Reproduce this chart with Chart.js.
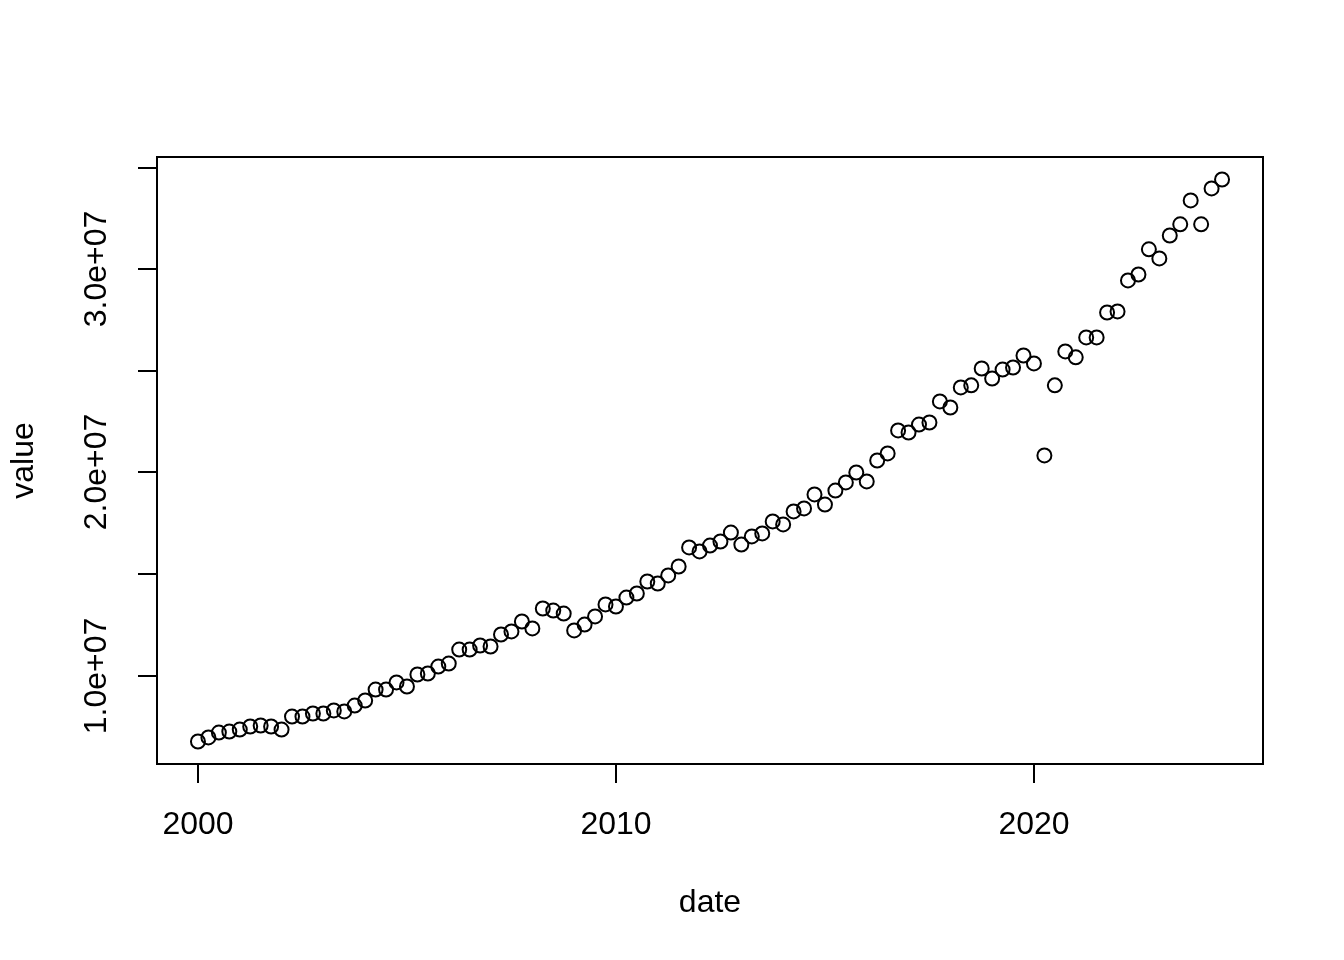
<!DOCTYPE html>
<html>
<head>
<meta charset="utf-8">
<script src="https://cdn.jsdelivr.net/npm/chart.js@4.4.0/dist/chart.umd.min.js"></script>
<style>
  body { margin: 0; background: #fff; }
  canvas { display: block; }
</style>
</head>
<body>
<canvas id="chart" width="1344" height="960"></canvas>
<script>
// quarterly observations, decimal years
const dates = [
  2000.00, 2000.25, 2000.50, 2000.75,
  2001.00, 2001.25, 2001.50, 2001.75,
  2002.00, 2002.25, 2002.50, 2002.75,
  2003.00, 2003.25, 2003.50, 2003.75,
  2004.00, 2004.25, 2004.50, 2004.75,
  2005.00, 2005.25, 2005.50, 2005.75,
  2006.00, 2006.25, 2006.50, 2006.75,
  2007.00, 2007.25, 2007.50, 2007.75,
  2008.00, 2008.25, 2008.50, 2008.75,
  2009.00, 2009.25, 2009.50, 2009.75,
  2010.00, 2010.25, 2010.50, 2010.75,
  2011.00, 2011.25, 2011.50, 2011.75,
  2012.00, 2012.25, 2012.50, 2012.75,
  2013.00, 2013.25, 2013.50, 2013.75,
  2014.00, 2014.25, 2014.50, 2014.75,
  2015.00, 2015.25, 2015.50, 2015.75,
  2016.00, 2016.25, 2016.50, 2016.75,
  2017.00, 2017.25, 2017.50, 2017.75,
  2018.00, 2018.25, 2018.50, 2018.75,
  2019.00, 2019.25, 2019.50, 2019.75,
  2020.00, 2020.25, 2020.50, 2020.75,
  2021.00, 2021.25, 2021.50, 2021.75,
  2022.00, 2022.25, 2022.50, 2022.75,
  2023.00, 2023.25, 2023.50, 2023.75,
  2024.00, 2024.25, 2024.50
];

const values = [
  6.75e6, 6.95e6, 7.19e6, 7.24e6,
  7.34e6, 7.49e6, 7.54e6, 7.49e6,
  7.34e6, 7.98e6, 7.98e6, 8.13e6,
  8.13e6, 8.28e6, 8.23e6, 8.52e6,
  8.77e6, 9.31e6, 9.31e6, 9.66e6,
  9.46e6, 10.05e6, 10.10e6, 10.44e6,
  10.59e6, 11.28e6, 11.28e6, 11.48e6,
  11.43e6, 12.02e6, 12.17e6, 12.66e6,
  12.32e6, 13.30e6, 13.20e6, 13.05e6,
  12.22e6, 12.51e6, 12.91e6, 13.50e6,
  13.40e6, 13.84e6, 14.04e6, 14.63e6,
  14.53e6, 14.93e6, 15.37e6, 16.31e6,
  16.11e6, 16.40e6, 16.60e6, 17.04e6,
  16.45e6, 16.85e6, 17.00e6, 17.59e6,
  17.44e6, 18.08e6, 18.23e6, 18.92e6,
  18.42e6, 19.11e6, 19.51e6, 20.00e6,
  19.56e6, 20.59e6, 20.94e6, 22.07e6,
  21.97e6, 22.36e6, 22.46e6, 23.50e6,
  23.20e6, 24.19e6, 24.29e6, 25.12e6,
  24.63e6, 25.07e6, 25.17e6, 25.76e6,
  25.37e6, 20.84e6, 24.29e6, 25.96e6,
  25.67e6, 26.65e6, 26.65e6, 27.88e6,
  27.93e6, 29.46e6, 29.75e6, 30.99e6,
  30.54e6, 31.67e6, 32.22e6, 33.40e6,
  32.22e6, 33.99e6, 34.43e6
];

const xTicks = [2000, 2010, 2020];
const xTickLabels = ['2000', '2010', '2020'];
const yTicks = [1.0e7, 1.5e7, 2.0e7, 2.5e7, 3.0e7, 3.5e7];
const yTickLabels = ['1.0e+07', '', '2.0e+07', '', '3.0e+07', ''];
const xTitle = 'date';
const yTitle = 'value';

// R style: pad the data range by 4% on each side
function padRange(arr) {
  const lo = Math.min(...arr), hi = Math.max(...arr);
  const d = (hi - lo) * 0.04;
  return [lo - d, hi + d];
}
const [xMin, xMax] = padRange(dates);
const [yMin, yMax] = padRange(values);

const FONT = '32px "Liberation Sans", Arial, Helvetica, sans-serif';

// draws the box, ticks and labels the way base R does
const rAxes = {
  id: 'rAxes',
  afterDraw(chart) {
    const c = chart.ctx;
    const a = chart.chartArea;
    const xs = chart.scales.x, ys = chart.scales.y;
    c.save();
    c.strokeStyle = '#000';
    c.fillStyle = '#000';
    c.lineWidth = 2;
    c.strokeRect(a.left, a.top, a.right - a.left, a.bottom - a.top);

    c.font = FONT;
    c.textAlign = 'center';
    c.textBaseline = 'alphabetic';
    xTicks.forEach((t, i) => {
      const px = Math.round(xs.getPixelForValue(t));
      c.beginPath();
      c.moveTo(px, a.bottom);
      c.lineTo(px, a.bottom + 19);
      c.stroke();
      c.fillText(xTickLabels[i], px, a.bottom + 70);
    });

    yTicks.forEach((t, i) => {
      const py = Math.round(ys.getPixelForValue(t));
      c.beginPath();
      c.moveTo(a.left, py);
      c.lineTo(a.left - 19, py);
      c.stroke();
      if (yTickLabels[i]) {
        c.save();
        c.translate(a.left - 51, py);
        c.rotate(-Math.PI / 2);
        c.fillText(yTickLabels[i], 0, 0);
        c.restore();
      }
    });

    c.fillText(xTitle, (a.left + a.right) / 2, a.bottom + 148);
    c.save();
    c.translate(33, (a.top + a.bottom) / 2);
    c.rotate(-Math.PI / 2);
    c.fillText(yTitle, 0, 0);
    c.restore();
    c.restore();
  }
};

const ctx = document.getElementById('chart').getContext('2d');
const chart = new Chart(ctx, {
  type: 'scatter',
  data: {
    datasets: [{
      data: dates.map((d, i) => ({ x: d, y: values[i] })),
      borderColor: '#000',
      backgroundColor: 'rgba(0,0,0,0)',
      pointRadius: 7,
      pointBorderWidth: 2,
      pointHoverRadius: 7
    }]
  },
  options: {
    responsive: false,
    animation: false,
    layout: {
      padding: { left: 157, top: 157, right: 81, bottom: 196 }
    },
    scales: {
      x: { type: 'linear', min: xMin, max: xMax, display: false },
      y: { type: 'linear', min: yMin, max: yMax, display: false }
    },
    plugins: {
      legend: { display: false },
      title: { display: false },
      tooltip: { enabled: false }
    }
  },
  plugins: [rAxes]
});
</script>
</body>
</html>
